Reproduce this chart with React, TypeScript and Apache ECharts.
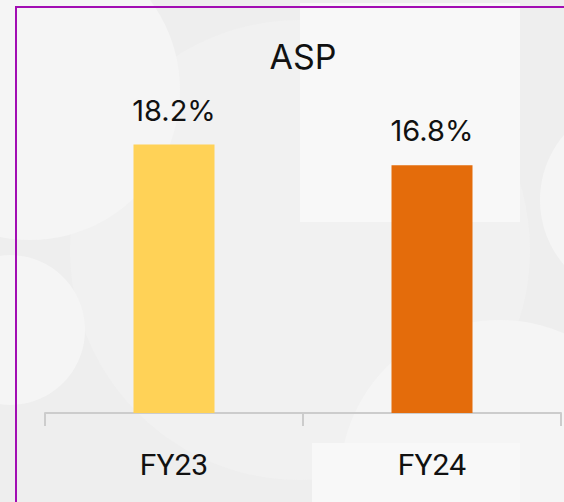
import React, { useEffect, useRef } from "react";
import * as echarts from "echarts";

const categories = ["FY23", "FY24"];
const values = [18.2, 16.8];
const barColors = ["#FFD257", "#E46C0B"];
const titleText = "ASP";

export default function App() {
  const ref = useRef<HTMLDivElement>(null);
  useEffect(() => {
    document.body.style.margin = "0";
    const chart = echarts.init(ref.current!, null, { renderer: "svg" });
    const light = "#f5f5f5";
    const lighter = "#f8f8f8";
    chart.setOption({
      animation: false,
      backgroundColor: "#eeeeee",
      graphic: [
        { type: "circle", shape: { cx: 300, cy: 250, r: 230 }, style: { fill: "#f1f1f1" }, z: -10, silent: true },
        { type: "circle", shape: { cx: 30, cy: 90, r: 150 }, style: { fill: light }, z: -9, silent: true },
        { type: "circle", shape: { cx: 10, cy: 330, r: 75 }, style: { fill: light }, z: -9, silent: true },
        { type: "circle", shape: { cx: 500, cy: 480, r: 160 }, style: { fill: light }, z: -9, silent: true },
        { type: "circle", shape: { cx: 640, cy: 200, r: 100 }, style: { fill: light }, z: -9, silent: true },
        { type: "rect", shape: { x: 300, y: 3, width: 220, height: 219 }, style: { fill: lighter }, z: -8, silent: true },
        { type: "rect", shape: { x: 312, y: 443, width: 208, height: 70 }, style: { fill: lighter }, z: -8, silent: true },
        { type: "rect", shape: { x: 16, y: 7, width: 700, height: 700 }, style: { fill: "none", stroke: "#A20DB3", lineWidth: 2 }, z: -1, silent: true },
        {
          type: "text",
          x: 303,
          y: 39,
          style: { text: titleText, fontSize: 34, fontFamily: "Inter", fill: "#111", textAlign: "center", textVerticalAlign: "top" },
          z: 5,
        },
      ],
      grid: { left: 45, right: 3, top: 118, bottom: 89 },
      xAxis: {
        type: "category",
        data: categories,
        axisLine: { lineStyle: { color: "#cccccc", width: 2 } },
        axisTick: { show: true, length: 13, lineStyle: { color: "#cccccc", width: 2 } },
        axisLabel: { fontSize: 30, fontFamily: "Roboto", color: "#111", margin: 36 },
      },
      yAxis: { type: "value", min: 0, max: 20, show: false, splitLine: { show: false } },
      series: [
        {
          type: "bar",
          data: values.map((v, i) => ({ value: v, itemStyle: { color: barColors[i] } })),
          barWidth: 81,
          label: {
            show: true,
            position: "top",
            distance: 20,
            formatter: "{c}%",
            fontSize: 29,
            fontFamily: "Inter",
            color: "#111",
          },
        },
      ],
    });
    return () => chart.dispose();
  }, []);
  return <div ref={ref} style={{ width: 564, height: 502, position: "absolute", left: 0, top: 0 }} />;
}
